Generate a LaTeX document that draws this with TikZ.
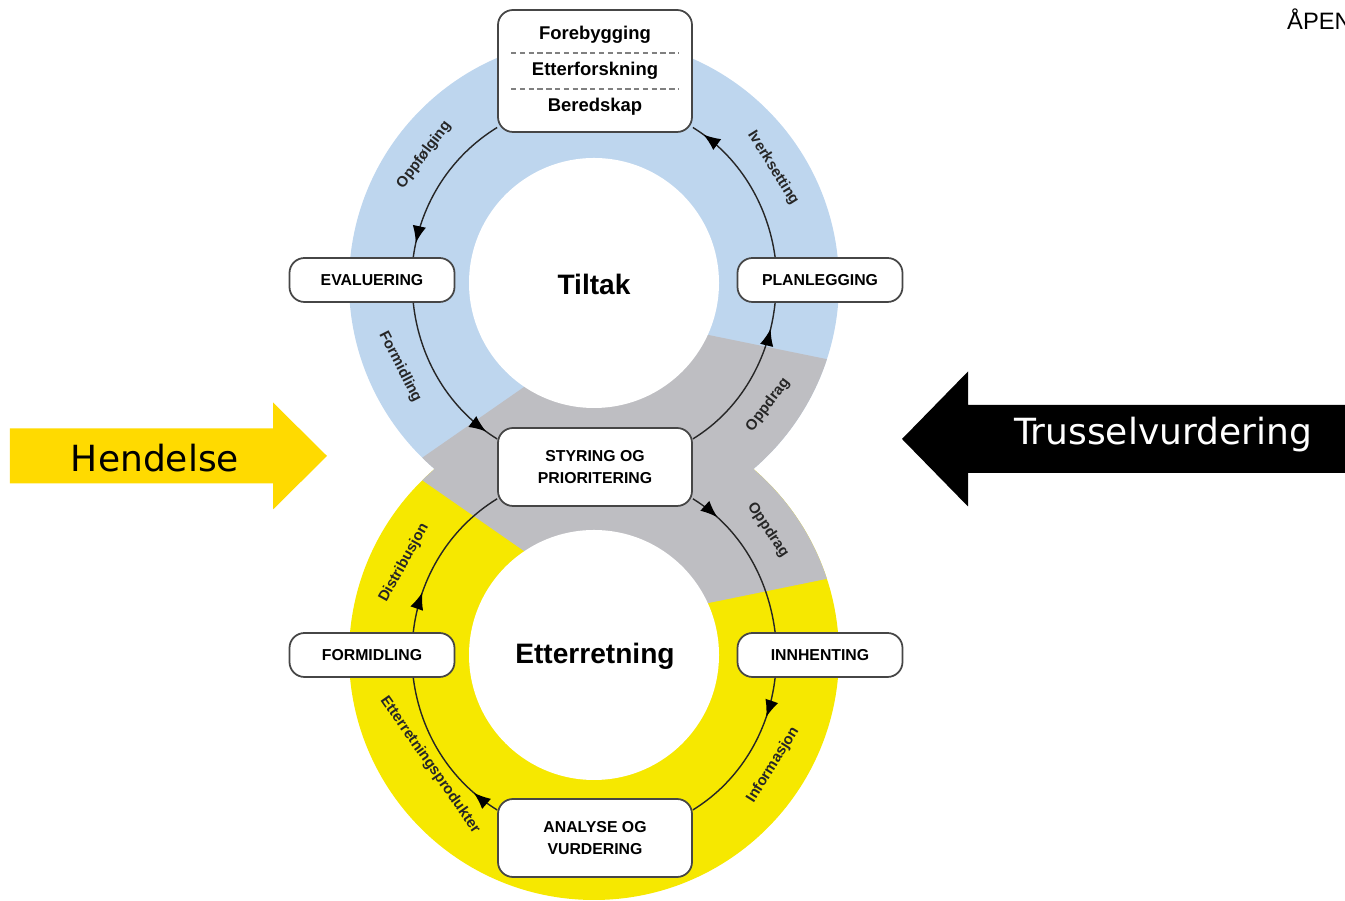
\documentclass[tikz,border=0pt]{standalone}
\usepackage{fontspec}
\setmainfont{Liberation Sans}
\newfontfamily\verdana{DejaVu Sans}
\usepackage{tikz}
\usetikzlibrary{positioning}
\usetikzlibrary{arrows.meta}
\usetikzlibrary{decorations.markings}
\definecolor{ringblue}{RGB}{190,214,238}
\definecolor{ringyellow}{RGB}{246,232,0}
\definecolor{ringgray}{RGB}{190,190,194}
\definecolor{hendyellow}{RGB}{255,218,0}
\definecolor{boxline}{RGB}{70,70,70}
\tikzset{
    phase/.style = {rectangle, rounded corners=0.3cm, draw=boxline, line width=1pt, fill=white, align=center, inner sep=0pt, minimum width=3.30cm, minimum height=0.88cm, font=\bfseries\fontsize{9}{13}\selectfont},
    phasew/.style = {phase, minimum width=3.88cm, minimum height=1.56cm},
    hub/.style = {phase, minimum width=3.88cm, minimum height=2.44cm},
    hubtext/.style = {inner sep=0pt, text height=0.75em, text depth=0.25em, font=\bfseries\fontsize{10.5}{12}\selectfont},
    sep/.style = {densely dashed, gray, line width=0.6pt},
    ringname/.style = {font=\bfseries\fontsize{16}{19}\selectfont},
    arclabel/.style = {inner sep=0pt, text=black!85, font=\bfseries\fontsize{8.5}{10}\selectfont},
    cyc/.style = {line width=0.8pt, draw=black!85, looseness=0.9},
    tipat/.style = {postaction={decorate}, decoration={markings, mark=at position #1 with {\arrow[black]{Latex[length=0.34cm,width=0.27cm]}}}},
    bigtext/.style = {font=\verdana\fontsize{20.5}{24}\selectfont}
}
\begin{document}
\begin{tikzpicture}
\useasboundingbox (0,0) rectangle (26.90,18.02);

% rings
\coordinate (c1) at (11.88, 12.36);
\coordinate (c2) at (11.88,  4.92);
\fill[ringblue] (c1) circle[radius=4.90];
\fill[ringyellow] (c2) circle[radius=4.90];
\begin{scope}
\clip (c1) circle[radius=4.90] (c2) circle[radius=4.90];
\fill[ringgray] (8.12,8.64) -- (11.20,10.78) -- (12.80,11.60) -- (17.60,10.62)
    -- (17.60,6.66) -- (12.80,5.68) -- (11.20,6.50) -- cycle;
\end{scope}
\fill[white] (c1) circle[radius=2.50];
\fill[white] (c2) circle[radius=2.50];

\node[ringname] at (11.88, 12.34) (tiltakname) {Tiltak};
\node[ringname] at (11.90,  4.90) (ettername) {Etterretning};

% boxes
\node[hub] at (11.90, 16.60) (tiltak) {};
\node[hubtext] at (11.90, 17.32) (fore) {Forebygging};
\node[hubtext] at (11.90, 16.60) (etter) {Etterforskning};
\node[hubtext] at (11.90, 15.88) (bered) {Beredskap};
\draw[sep] ([xshift=0.28cm,yshift=0.36cm]tiltak.west) -- ([xshift=-0.28cm,yshift=0.36cm]tiltak.east);
\draw[sep] ([xshift=0.28cm,yshift=-0.36cm]tiltak.west) -- ([xshift=-0.28cm,yshift=-0.36cm]tiltak.east);

\node[phase]  at ( 7.44, 12.42) (eval) {EVALUERING};
\node[phase]  at (16.40, 12.42) (plan) {PLANLEGGING};
\node[phasew] at (11.90,  8.68) (styr) {STYRING OG\\PRIORITERING};
\node[phase]  at ( 7.44,  4.92) (form) {FORMIDLING};
\node[phase]  at (16.40,  4.92) (innh) {INNHENTING};
\node[phasew] at (11.90,  1.26) (anal) {ANALYSE OG\\VURDERING};

% upper cycle
\draw[cyc, tipat=0.91] (tiltak.210) to[out=211.6, in= 82.2] (eval.29);
\draw[cyc, tipat=0.92] (eval.331)   to[out=276.0, in=148.4] (styr.164);
\draw[cyc, tipat=0.84] (styr.16)    to[out= 31.6, in=264.0] (plan.207);
\draw[cyc, tipat=0.92] (plan.153)   to[out= 97.8, in=328.4] (tiltak.330);

% lower cycle
\draw[cyc, tipat=0.19] (styr.342) to[out=328.4, in= 97.2] (innh.153);
\draw[cyc, tipat=0.25] (innh.207) to[out=263.4, in= 31.6] (anal.16);
\draw[cyc, tipat=0.18] (anal.164) to[out=148.4, in=277.2] (form.331);
\draw[cyc, tipat=0.25] (form.29)  to[out= 83.4, in=211.6] (styr.198);

\node[arclabel, rotate= 53] at ( 8.48, 14.92) (oppf) {Oppfølging};
\node[arclabel, rotate=-58] at (15.46, 14.66) (iverk) {Iverksetting};
\node[arclabel, rotate=-63] at ( 8.00, 10.68) (formi) {Formidling};
\node[arclabel, rotate= 53] at (15.36,  9.92) (oppd1) {Oppdrag};
\node[arclabel, rotate=-56] at (15.36,  7.42) (oppd2) {Oppdrag};
\node[arclabel, rotate= 61] at ( 8.08,  6.76) (distr) {Distribusjon};
\node[arclabel, rotate=-55] at ( 8.60,  2.72) (prod) {Etterretningsprodukter};
\node[arclabel, rotate= 58] at (15.46,  2.72) (info) {Informasjon};

% side arrows
\fill[hendyellow] (0.20,8.35) -- (5.46,8.35) -- (5.46,7.83) -- (6.54,8.90)
    -- (5.46,9.97) -- (5.46,9.45) -- (0.20,9.45) -- cycle;
\node[bigtext, anchor=base] at (3.10, 8.58) (hend) {Hendelse};
\fill[black] (27.00,8.56) -- (19.36,8.56) -- (19.36,7.89) -- (18.04,9.24)
    -- (19.36,10.59) -- (19.36,9.92) -- (27.00,9.92) -- cycle;
\node[bigtext, text=white, anchor=base] at (23.26, 9.12) (truss) {Trusselvurdering};

\node[anchor=base west, font=\fontsize{13.5}{16}\selectfont] at (25.62, 17.42) (apen) {ÅPEN};
\end{tikzpicture}
\end{document}
